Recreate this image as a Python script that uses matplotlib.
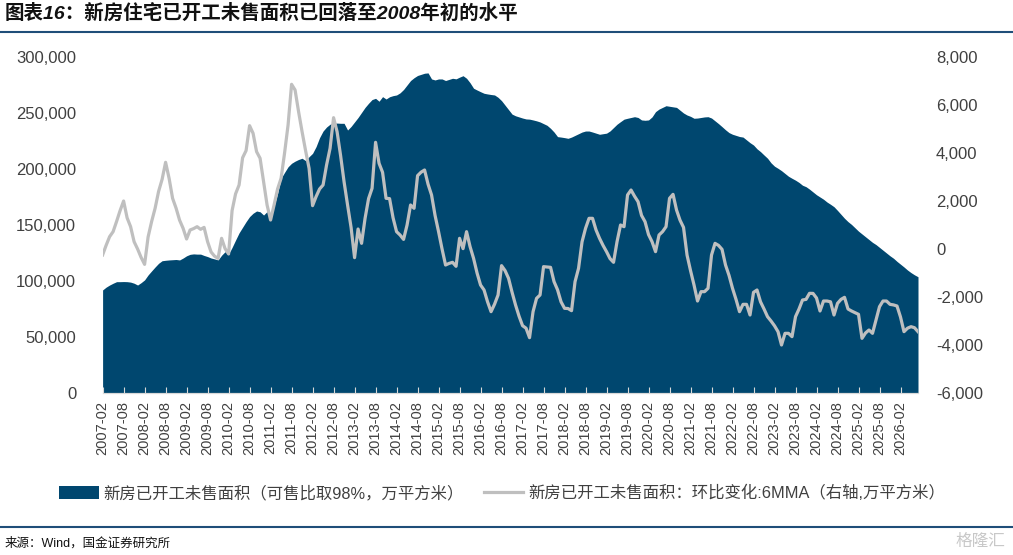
import matplotlib
matplotlib.use("Agg")
import matplotlib.pyplot as plt
from matplotlib.ticker import FuncFormatter, FixedLocator

plt.rcParams['font.family'] = ['Liberation Sans', 'Noto Sans CJK SC', 'DejaVu Sans']

# 新房已开工未售面积（可售比取98%，万平方米），月度 2007-02 起
area = [
    92000, 94500, 96400, 98000, 99400, 99400, 99500, 99400, 99000, 98000, 96400, 98500,
    101000, 105400, 109000, 112500, 115800, 118100, 118500, 118800, 119000, 119200, 118800, 120500,
    122500, 123800, 124200, 124000, 124000, 122800, 121800, 120500, 119700, 118800, 123000, 126200,
    124000, 130000, 136600, 143000, 148000, 153000, 157500, 160500, 162500, 161800, 158900, 162000,
    159000, 167000, 178000, 191700, 197000, 202000, 205100, 207000, 208500, 209600, 207500, 211000,
    214000, 220000, 228000, 233900, 237500, 240000, 240800, 241000, 240800, 240800, 234800, 238000,
    242000, 246000, 250500, 255000, 258700, 262000, 263100, 260500, 264600, 262500, 264500, 265500,
    266100, 268000, 271000, 275000, 279000, 281500, 283500, 284500, 285500, 285800, 280400, 279500,
    280400, 280400, 279000, 280000, 281000, 280500, 282000, 283300, 281000, 277000, 272100, 270500,
    269000, 267600, 267000, 266500, 266100, 264000, 261000, 257000, 253000, 249000, 247500, 246500,
    245500, 244700, 244500, 243800, 243000, 242000, 240500, 239000, 236300, 233000, 228900, 228500,
    228000, 227400, 228500, 230000, 231500, 233000, 233900, 233900, 233000, 232000, 231000, 231500,
    232000, 234000, 237000, 240000, 242300, 244500, 245300, 246000, 246700, 246000, 243800, 243500,
    243800, 246500, 251200, 253500, 255000, 256500, 256000, 255500, 255000, 252500, 250000, 248200,
    247000, 245300, 245500, 246000, 246500, 246700, 245500, 243000, 240500, 237800, 235000, 232500,
    231000, 230000, 229000, 228500, 226000, 223500, 221400, 218000, 215500, 212500, 209600, 205500,
    202500, 200600, 198500, 196000, 193500, 191700, 190000, 188000, 185500, 184200, 182000, 179500,
    177000, 175000, 173000, 170500, 168500, 166300, 163000, 159500, 156000, 153000, 150500, 147500,
    144500, 142000, 139500, 137000, 134500, 132500, 130000, 127500, 125000, 122500, 120300, 117500,
    115000, 112500, 109800, 107500, 105500, 103800,
]

# 环比变化 6MMA（右轴，万平方米）
mom = [
    -250, 150, 513, 722, 1150, 1600, 2000, 1300, 930, 305, 0, -350,
    -640, 500, 1138, 1695, 2400, 2900, 3612, 2946, 2112, 1700, 1200, 863,
    417, 792, 850, 930, 820, 900, 305, -125, -300, -388, 445, 15,
    -208, 1600, 2300, 2667, 3800, 4100, 5139, 4820, 4055, 3780, 2806, 1834,
    1208, 1834, 2500, 2946, 4000, 5167, 6862, 6625, 5722, 4888, 4100, 3362,
    1806, 2181, 2500, 2667, 3500, 4195, 5472, 4888, 3900, 2800, 1834, 900,
    -361, 833, 236, 1278, 2100, 2528, 4445, 3570, 3195, 2112, 2100, 1300,
    722, 583, 400, 1000, 1834, 1695, 3056, 3200, 3292, 2700, 2250, 1400,
    722, 0, -667, -600, -555, -722, 445, 15, 722, 100, -388, -1000,
    -1500, -1708, -2200, -2611, -2300, -1917, -694, -900, -1222, -1800, -2333, -2800,
    -3195, -3300, -3695, -2611, -2056, -1917, -736, -750, -764, -1361, -1700, -2200,
    -2472, -2480, -2570, -1361, -806, 300, 861, 1278, 1278, 792, 445, 150,
    -111, -400, -555, 305, 1000, 930, 2250, 2458, 2200, 1972, 1400, 1138,
    600, 305, -111, 583, 722, 930, 2112, 2278, 1625, 1200, 900, -250,
    -900, -1500, -2167, -1778, -1778, -1639, -250, 236, 150, -14, -667, -1100,
    -1639, -2100, -2611, -2306, -2306, -2750, -1806, -1708, -2200, -2500, -2819, -3000,
    -3200, -3445, -4000, -3514, -3514, -3653, -2819, -2500, -2125, -2100, -1847, -1850,
    -2042, -2583, -2167, -2167, -2200, -2750, -2264, -2100, -2014, -2500, -2583, -2650,
    -2722, -3722, -3500, -3375, -3514, -2958, -2403, -2167, -2167, -2306, -2330, -2375,
    -2833, -3445, -3300, -3236, -3280, -3445,
]

n = len(area)
months = [f"{2007 + (1 + i) // 12}-{(1 + i) % 12 + 1:02d}" for i in range(n)]
x = list(range(n))
tick_pos = list(range(0, n, 6))
tick_lab = [months[i] for i in tick_pos]

navy = '#00476F'
grey = '#BFBFBF'
txt = '#404040'

fig = plt.figure(figsize=(10.13, 5.55), dpi=100)
ax = fig.add_axes([102.6 / 1013, 1 - 393 / 555, (918 - 102.6) / 1013, 336 / 555])
ax2 = ax.twinx()

ax.fill_between(x, 0, area, color=navy, linewidth=0, label='新房已开工未售面积（可售比取98%，万平方米）')
ax2.plot(x, mom, color=grey, lw=2.3, label='新房已开工未售面积：环比变化:6MMA（右轴,万平方米）')

ax.set_xlim(0, n - 1)
ax.set_ylim(0, 300000)
ax.set_yticks(range(0, 300001, 50000))
ax.yaxis.set_major_formatter(FuncFormatter(lambda v, p: f"{v:,.0f}"))
ax2.set_ylim(-6000, 8000)
ax2.set_yticks(range(-6000, 8001, 2000))
ax2.yaxis.set_major_formatter(FuncFormatter(lambda v, p: f"{v:,.0f}"))

ax.xaxis.set_major_locator(FixedLocator(tick_pos))
ax.set_xticklabels(tick_lab, rotation=90, fontsize=10.5, color=txt)
ax.tick_params(axis='x', direction='in', length=4, color='#D9D9D9', pad=6)
ax.tick_params(axis='y', length=0, labelsize=12, labelcolor=txt, pad=19)
ax2.tick_params(axis='y', length=0, labelsize=12, labelcolor=txt, pad=13)

for a in (ax, ax2):
    for s in ('top', 'left', 'right'):
        a.spines[s].set_visible(False)
    a.spines['bottom'].set_color('#D9D9D9')

h1, l1 = ax.get_legend_handles_labels()
h2, l2 = ax2.get_legend_handles_labels()
fig.legend(h1 + h2, l1 + l2, loc='center', bbox_to_anchor=(502 / 1013, 1 - 493 / 555),
           ncol=2, frameon=False, fontsize=11.8, handlelength=2.4, handleheight=0.9,
           handletextpad=0.3, columnspacing=1.2, labelcolor=txt)

fig.text(5 / 1013, 1 - 13 / 555, '图表16：新房住宅已开工未售面积已回落至2008年初的水平',
         fontsize=14, fontweight='bold', style='italic', va='center', ha='left', color='#111111')
fig.add_artist(plt.Line2D([0, 1], [1 - 32 / 555, 1 - 32 / 555], color='#1F4E79', lw=1.5))
fig.add_artist(plt.Line2D([0, 1], [1 - 527 / 555, 1 - 527 / 555], color='#1F4E79', lw=1.5))
fig.text(5 / 1013, 1 - 543 / 555, '来源：Wind，国金证券研究所', fontsize=9, va='center', ha='left', color='#111111')
fig.text(1005 / 1013, 1 - 541 / 555, '格隆汇', fontsize=12, va='center', ha='right', color='#C8C8C8')

fig.savefig('out.png', dpi=100)
